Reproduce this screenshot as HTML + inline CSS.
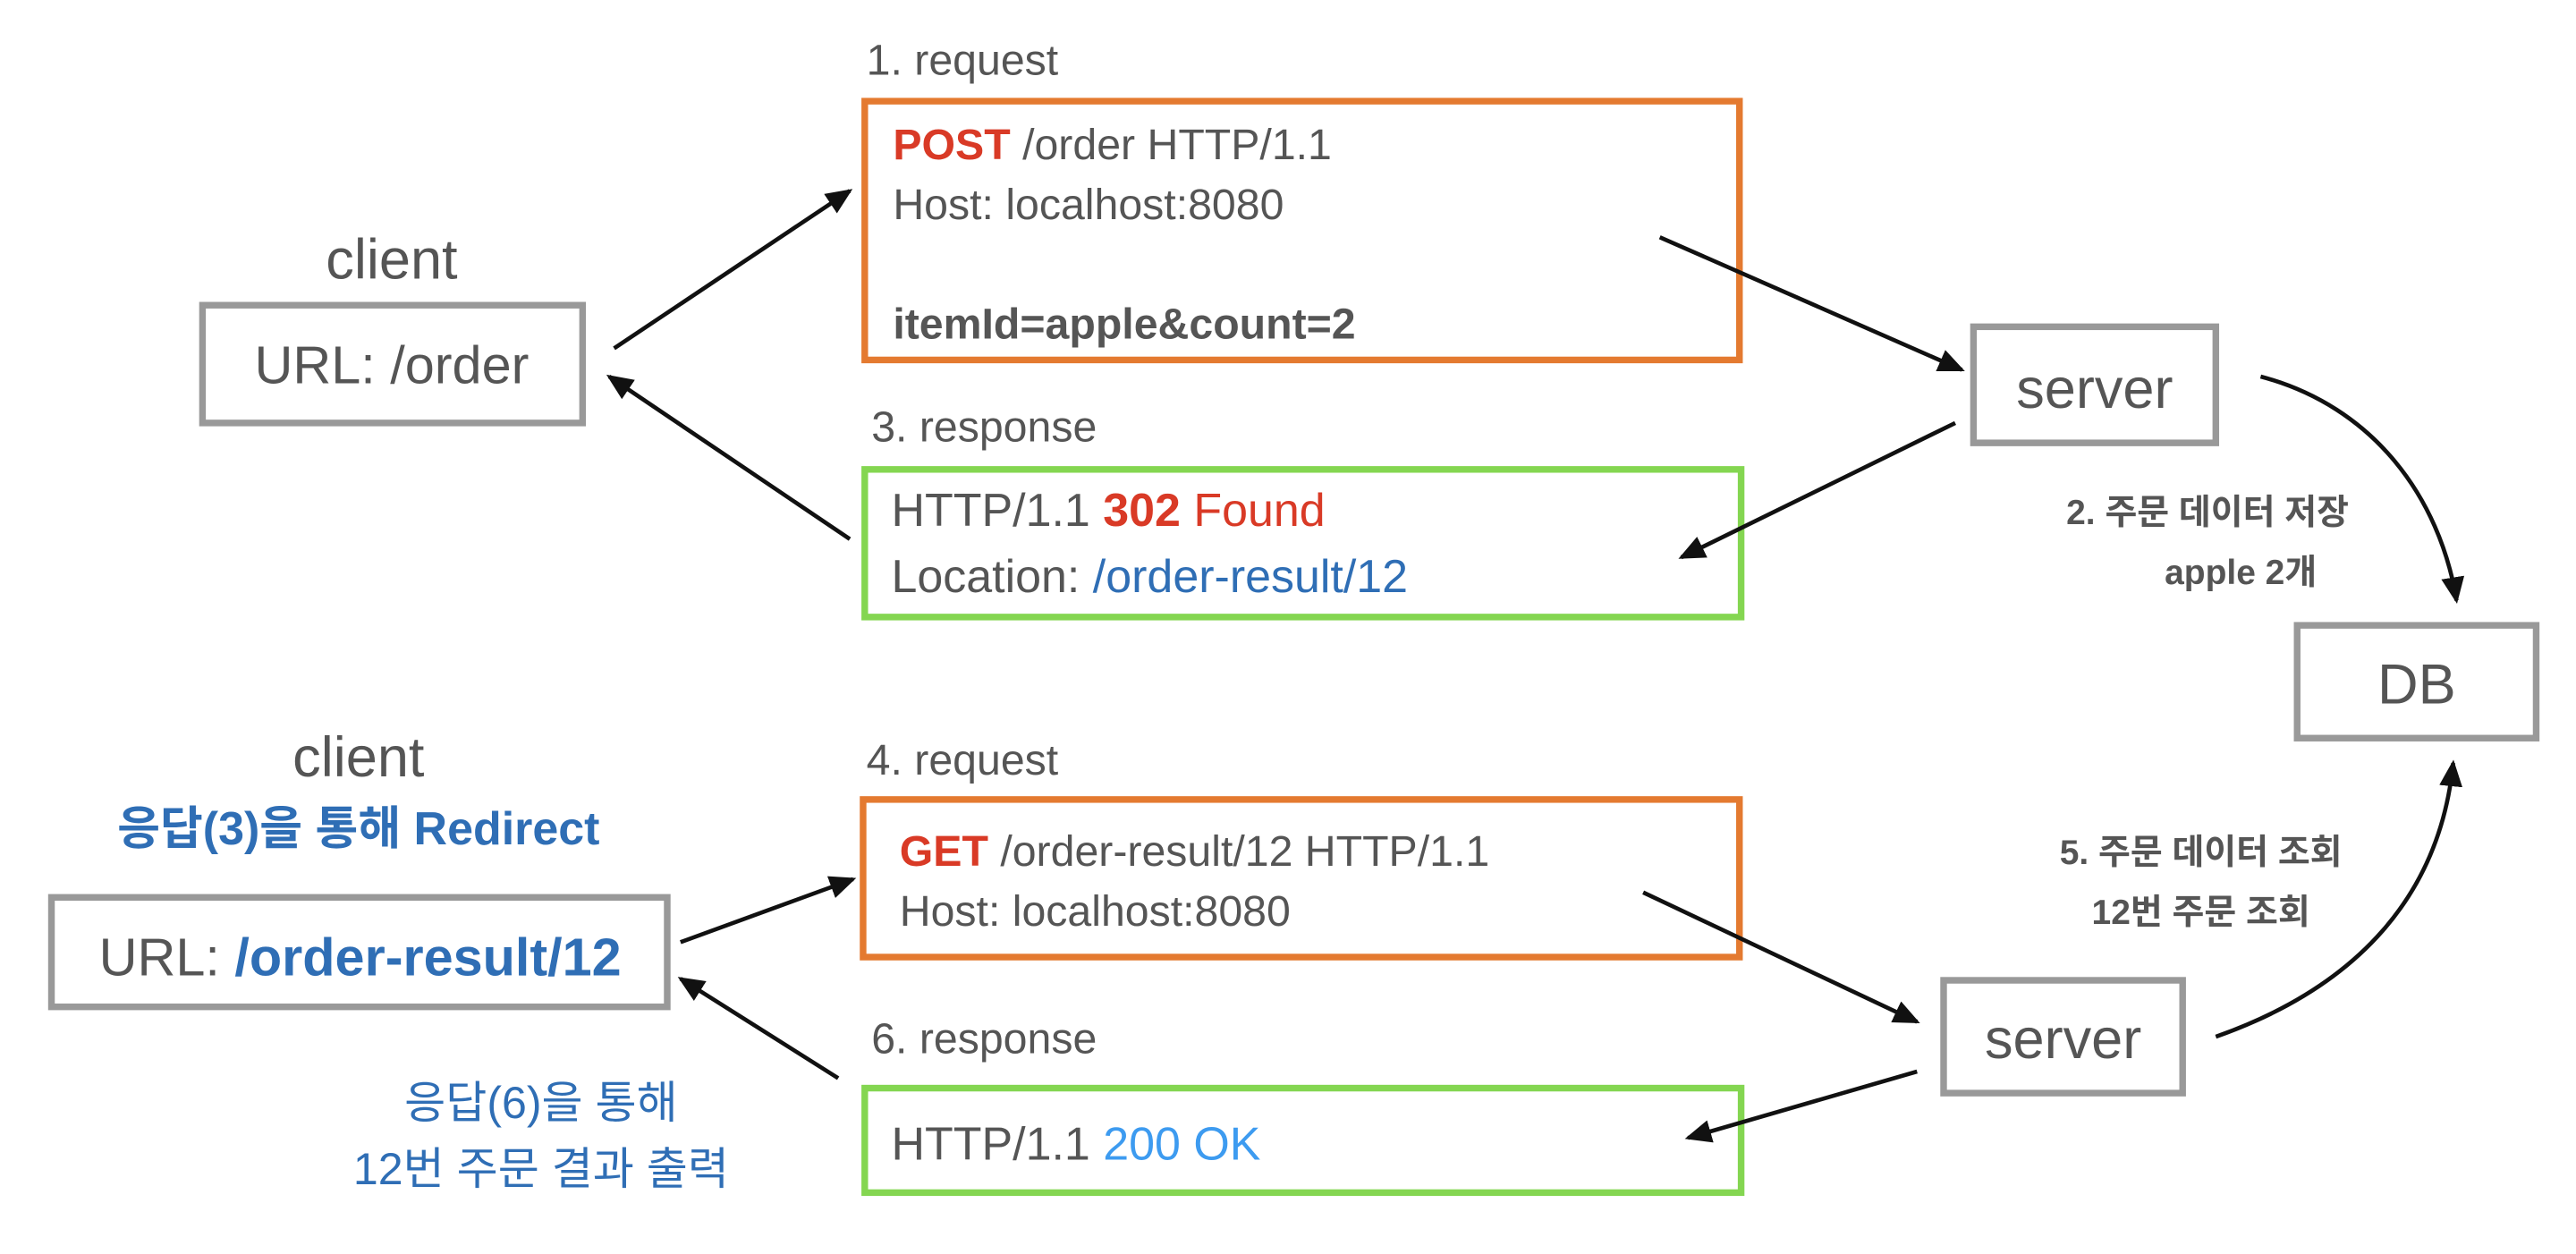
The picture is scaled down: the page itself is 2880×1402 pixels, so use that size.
<!DOCTYPE html>
<html><head><meta charset="utf-8"><style>
html,body{margin:0;padding:0;background:#fff;}
svg{display:block;}
text{font-family:"Liberation Sans","Noto Sans CJK KR",sans-serif;fill:#555;}
.b{font-weight:bold;}
</style></head><body>
<svg width="2880" height="1402" viewBox="0 0 1552 756" preserveAspectRatio="none" xmlns="http://www.w3.org/2000/svg">
<defs>
<marker id="ah" markerWidth="10" markerHeight="10" refX="8" refY="5" orient="auto" markerUnits="userSpaceOnUse" viewBox="0 0 10 10">
<path d="M0,0 L10,5 L0,10 Z" fill="#111"/>
</marker>
<marker id="ah2" markerWidth="16" markerHeight="16" refX="14" refY="8" orient="auto" markerUnits="userSpaceOnUse" viewBox="0 0 16 16">
<path d="M0,1 L16,8 L0,15 Z" fill="#111"/>
</marker>
</defs>

<!-- top section -->
<text x="522" y="45" font-size="26">1. request</text>
<rect x="521" y="61" width="527" height="156" fill="none" stroke="#E47A30" stroke-width="4"/>
<text x="538" y="96" font-size="26"><tspan class="b" fill="#D93A26" style="fill:#D93A26">POST</tspan> /order HTTP/1.1</text>
<text x="538" y="132" font-size="26">Host: localhost:8080</text>
<text x="538" y="204" font-size="26" class="b">itemId=apple&amp;count=2</text>

<text x="236" y="168" font-size="34" text-anchor="middle">client</text>
<rect x="122" y="184" width="229" height="71" fill="none" stroke="#999" stroke-width="4"/>
<text x="236" y="231" font-size="32" text-anchor="middle">URL: /order</text>

<text x="525" y="266" font-size="26">3. response</text>
<rect x="521" y="283" width="528" height="89" fill="none" stroke="#84D651" stroke-width="4"/>
<text x="537" y="317" font-size="28">HTTP/1.1 <tspan class="b" style="fill:#D93A26">302</tspan> <tspan style="fill:#D93A26">Found</tspan></text>
<text x="537" y="357" font-size="28">Location: <tspan style="fill:#2F6EB5">/order-result/12</tspan></text>

<rect x="1189" y="197" width="146" height="70" fill="none" stroke="#999" stroke-width="4"/>
<text x="1262" y="246" font-size="34" text-anchor="middle">server</text>

<text x="1330" y="316" font-size="21" class="b" text-anchor="middle">2. 주문 데이터 저장</text>
<text x="1350" y="352" font-size="21" class="b" text-anchor="middle">apple 2개</text>

<rect x="1384" y="377" width="144" height="68" fill="none" stroke="#999" stroke-width="4"/>
<text x="1456" y="424" font-size="34" text-anchor="middle">DB</text>

<!-- bottom section -->
<text x="216" y="468" font-size="34" text-anchor="middle">client</text>
<text x="216" y="509" font-size="28" class="b" text-anchor="middle" style="fill:#2F6EB5">응답(3)을 통해 Redirect</text>
<rect x="31" y="541" width="371" height="66" fill="none" stroke="#999" stroke-width="4"/>
<text x="217" y="588" font-size="32" text-anchor="middle">URL: <tspan class="b" style="fill:#2F6EB5">/order-result/12</tspan></text>

<text x="522" y="467" font-size="26">4. request</text>
<rect x="520" y="482" width="528" height="95" fill="none" stroke="#E47A30" stroke-width="4"/>
<text x="542" y="522" font-size="26"><tspan class="b" style="fill:#D93A26">GET</tspan> /order-result/12 HTTP/1.1</text>
<text x="542" y="558" font-size="26">Host: localhost:8080</text>

<text x="525" y="635" font-size="26">6. response</text>
<rect x="521" y="656" width="528" height="63" fill="none" stroke="#84D651" stroke-width="4"/>
<text x="537" y="699" font-size="28">HTTP/1.1 <tspan style="fill:#3D9BF0">200 OK</tspan></text>

<rect x="1171" y="591" width="144" height="68" fill="none" stroke="#999" stroke-width="4"/>
<text x="1243" y="638" font-size="34" text-anchor="middle">server</text>

<text x="1326" y="521" font-size="21" class="b" text-anchor="middle">5. 주문 데이터 조회</text>
<text x="1326" y="557" font-size="21" class="b" text-anchor="middle">12번 주문 조회</text>

<text x="326" y="674" font-size="27" text-anchor="middle" style="fill:#2F6EB5">응답(6)을 통해</text>
<text x="326" y="714" font-size="27" text-anchor="middle" style="fill:#2F6EB5">12번 주문 결과 출력</text>

<!-- arrows -->
<g stroke="#111" stroke-width="2.5" fill="none" marker-end="url(#ah2)">
<line x1="370" y1="210" x2="512" y2="115"/>
<line x1="1000" y1="143" x2="1182" y2="223"/>
<line x1="1178" y1="255" x2="1013" y2="336"/>
<line x1="512" y1="325" x2="367" y2="227"/>
<path d="M1362,227 C1430,245 1470,300 1480,362"/>
<line x1="410" y1="568" x2="514" y2="530"/>
<line x1="990" y1="538" x2="1155" y2="616"/>
<line x1="1155" y1="646" x2="1017" y2="686"/>
<line x1="505" y1="650" x2="410" y2="590"/>
<path d="M1335,625 C1420,595 1470,540 1478,460"/>
</g>
</svg>
</body></html>
